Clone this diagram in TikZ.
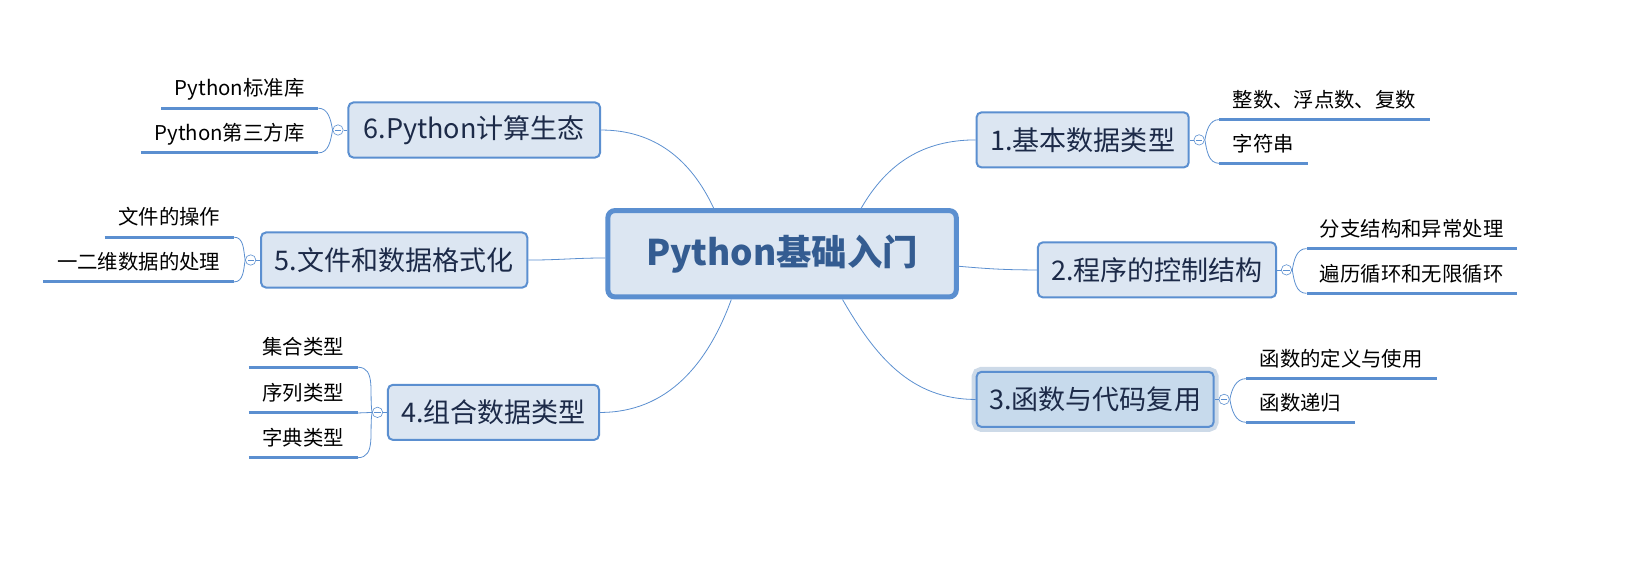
\documentclass[tikz,border=0pt]{standalone}
\usepackage{fontspec}
\setmainfont{Noto Sans CJK SC}
\usepackage{xcolor}
\usetikzlibrary{shapes,positioning}

\definecolor{lineblue}{RGB}{91,143,208}
\definecolor{boxfill}{RGB}{220,230,242}
\definecolor{selfill}{RGB}{199,218,236}
\definecolor{selglow}{RGB}{205,218,232}
\definecolor{rootblue}{RGB}{52,92,145}
\definecolor{topicblue}{RGB}{28,42,72}

\begin{document}
\begin{tikzpicture}[x=1pt,y=-1pt,scale=1.04,transform shape,
	root/.style={draw=lineblue,line width=5pt,fill=boxfill,rounded corners=7pt,text=rootblue,font=\fontsize{34}{40}\selectfont\bfseries,minimum width=335pt,minimum height=83pt},
	topic/.style={draw=lineblue,line width=2pt,fill=boxfill,rounded corners=5pt,text=topicblue,font=\fontsize{26}{31}\selectfont,minimum height=53pt},
	chosen/.style={fill=selfill,preaction={draw=selglow,line width=10pt}},
	sub/.style={font=\fontsize{19.6}{23}\selectfont,inner xsep=13pt,inner ysep=8.5pt,text height=16pt,text depth=3pt},
	fold/.style={circle,draw=lineblue,fill=white,line width=0.6pt,minimum size=10pt,inner sep=0pt,
		path picture={\draw[lineblue,line width=0.6pt] ([xshift=-3pt]path picture bounding box.center) -- ([xshift=3pt]path picture bounding box.center);}},
	branch/.style={lineblue,line width=0.8pt},
	uline/.style={lineblue,line width=3pt}]
		\useasboundingbox (0,0) rectangle (1567.3,563.5);
		% centre
		\node[root] (root) at (752,244) {Python基础入门};
		% topics
		\node[topic,minimum width=204pt] (t1) at (1041,134.5) {1.基本数据类型};
		\node[topic,minimum width=229pt] (t2) at (1112.5,259.5) {2.程序的控制结构};
		\node[topic,chosen,minimum width=228pt] (t3) at (1053,384) {3.函数与代码复用};
		\node[topic,minimum width=203pt] (t4) at (474.5,396.5) {4.组合数据类型};
		\node[topic,minimum width=256pt] (t5) at (379,250) {5.文件和数据格式化};
		\node[topic,minimum width=242pt] (t6) at (456,125) {6.Python计算生态};
		% fold marks
		\node[fold] (f1) at (1153,134.5) {};
		\node[fold] (f2) at (1237,259.5) {};
		\node[fold] (f3) at (1177,384) {};
		\node[fold] (f4) at (363,396.5) {};
		\node[fold] (f5) at (241,250) {};
		\node[fold] (f6) at (325,125) {};
		% subtopics
		\node[sub,anchor=south west] (s11) at (1172,115) {整数、浮点数、复数};
		\node[sub,anchor=south west] (s12) at (1172,157) {字符串};
		\node[sub,anchor=south west] (s21) at (1256,239) {分支结构和异常处理};
		\node[sub,anchor=south west] (s22) at (1256,282) {遍历循环和无限循环};
		\node[sub,anchor=south west] (s31) at (1198,364) {函数的定义与使用};
		\node[sub,anchor=south west] (s32) at (1198,406) {函数递归};
		\node[sub,anchor=south east] (s41) at (344,353) {集合类型};
		\node[sub,anchor=south east] (s42) at (344,397) {序列类型};
		\node[sub,anchor=south east] (s43) at (344,440) {字典类型};
		\node[sub,anchor=south east] (s51) at (225,228) {文件的操作};
		\node[sub,anchor=south east] (s52) at (225,271) {一二维数据的处理};
		\node[sub,anchor=south east] (s61) at (306,104) {Python标准库};
		\node[sub,anchor=south east] (s62) at (306,147) {Python第三方库};
		\foreach \s in {s11,s12,s21,s22,s31,s32,s41,s42,s43,s51,s52,s61,s62}
			\draw[uline] (\s.south west) -- (\s.south east);
		% centre to topics
		\draw[branch] ([xshift=76pt]root.north) to[out=60,in=180] (t1.west);
		\draw[branch] ([yshift=-12pt]root.east) to[out=-5,in=180] (t2.west);
		\draw[branch] ([xshift=58pt]root.south) to[out=-60,in=180] (t3.west);
		\draw[branch] ([xshift=-49pt]root.south) to[out=-110,in=0] (t4.east);
		\draw[branch] ([yshift=-4pt]root.west) to[out=180,in=0] (t5.east);
		\draw[branch] ([xshift=-66pt]root.north) to[out=115,in=0] (t6.east);
		% topics to fold marks
		\draw[branch] (t1.east) -- (f1.west);
		\draw[branch] (t2.east) -- (f2.west);
		\draw[branch] (t3.east) -- (f3.west);
		\draw[branch] (t4.west) -- (f4.east);
		\draw[branch] (t5.west) -- (f5.east);
		\draw[branch] (t6.west) -- (f6.east);
		% fold marks to subtopics
		\draw[branch] (f1.east) to[out=80,in=180] (s11.south west);
		\draw[branch] (f1.east) to[out=-80,in=180] (s12.south west);
		\draw[branch] (f2.east) to[out=80,in=180] (s21.south west);
		\draw[branch] (f2.east) to[out=-80,in=180] (s22.south west);
		\draw[branch] (f3.east) to[out=80,in=180] (s31.south west);
		\draw[branch] (f3.east) to[out=-80,in=180] (s32.south west);
		\draw[branch] (f4.west) to[out=100,in=0] (s41.south east);
		\draw[branch] (f4.west) -- (s42.south east);
		\draw[branch] (f4.west) to[out=-100,in=0] (s43.south east);
		\draw[branch] (f5.west) to[out=100,in=0] (s51.south east);
		\draw[branch] (f5.west) to[out=-100,in=0] (s52.south east);
		\draw[branch] (f6.west) to[out=100,in=0] (s61.south east);
		\draw[branch] (f6.west) to[out=-100,in=0] (s62.south east);
\end{tikzpicture}
\end{document}
